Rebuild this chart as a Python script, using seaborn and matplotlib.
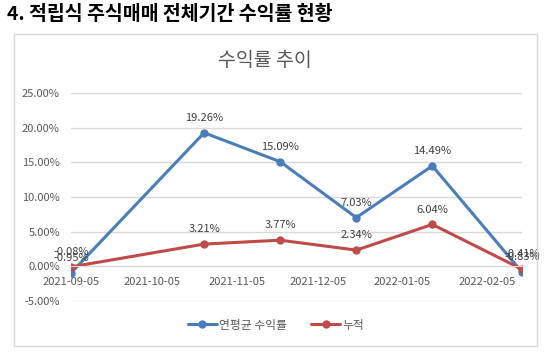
import matplotlib
matplotlib.use('Agg')
import matplotlib.pyplot as plt
import matplotlib.dates as mdates
from matplotlib.patches import Rectangle
import pandas as pd
import seaborn as sns

# 데이터
dates = ['2021-09-05', '2021-10-24', '2021-11-21', '2021-12-19', '2022-01-16', '2022-02-18']
annual_return = [-0.95, 19.26, 15.09, 7.03, 14.49, -0.83]
cumulative = [-0.08, 3.21, 3.77, 2.34, 6.04, -0.41]
series_names = ['연평균 수익률', '누적']
colors = ['#4A7EBB', '#BE4B48']

df = pd.DataFrame({
    '날짜': pd.to_datetime(dates * 2),
    '수익률': annual_return + cumulative,
    '구분': [series_names[0]] * len(dates) + [series_names[1]] * len(dates),
})

sns.set_style('white')
plt.rcParams['font.family'] = ['Noto Sans CJK KR', 'DejaVu Sans']

W, H = 544, 353
fig = plt.figure(figsize=(W / 100, H / 100), dpi=100)

# 차트 테두리
fig.patches.append(Rectangle((14 / W, 1 - 346 / H), 523 / W, 312 / H,
                             transform=fig.transFigure, fill=False,
                             edgecolor='#D9D9D9', linewidth=1))

fig.text(7 / W, 1 - 14 / H, '4. 적립식 주식매매 전체기간 수익률 현황',
         fontsize=14, fontweight='bold', color='black', va='center', ha='left')
fig.text(265 / W, 1 - 61 / H, '수익률 추이', fontsize=14, color='#595959',
         va='center', ha='center')

ax = fig.add_axes([71 / W, 1 - 301 / H, 451 / W, 208 / H])
sns.lineplot(data=df, x='날짜', y='수익률', hue='구분', hue_order=series_names,
             palette=colors, marker='o', markersize=6, markeredgewidth=0,
             linewidth=2.2, ax=ax)

ax.set_ylim(-5, 25)
ax.set_yticks(range(-5, 30, 5))
ax.set_yticklabels([f'{v:.2f}%' for v in range(-5, 30, 5)])
ax.set_xlim(pd.Timestamp(dates[0]), pd.Timestamp(dates[-1]))
ax.xaxis.set_major_locator(mdates.MonthLocator(bymonthday=5))
ax.xaxis.set_major_formatter(mdates.DateFormatter('%Y-%m-%d'))

ax.grid(axis='y', color='#D9D9D9', linewidth=1)
ax.set_axisbelow(True)
for s in ['top', 'right', 'left']:
    ax.spines[s].set_visible(False)
ax.spines['bottom'].set_position(('data', 0))
ax.spines['bottom'].set_color('#D9D9D9')
ax.tick_params(axis='both', length=0, labelsize=8, labelcolor='#595959')
ax.tick_params(axis='x', pad=7.5)
ax.tick_params(axis='y', pad=8)
ax.set_xlabel('')
ax.set_ylabel('')

# 데이터 레이블
for vals in [annual_return, cumulative]:
    for d, v in zip(dates, vals):
        ax.annotate(f'{v:.2f}%', (pd.Timestamp(d), v), xytext=(0, 7),
                    textcoords='offset points', ha='center', va='bottom',
                    fontsize=8, color='#404040')

handles, labels = ax.get_legend_handles_labels()
ax.get_legend().remove()
fig.legend(handles, labels, loc='center', bbox_to_anchor=(276 / W, 1 - 325 / H),
           ncol=2, frameon=False, fontsize=8.5, labelcolor='#595959',
           handlelength=2.5, handletextpad=0.2, columnspacing=2)

fig.savefig('out.png', dpi=100)
